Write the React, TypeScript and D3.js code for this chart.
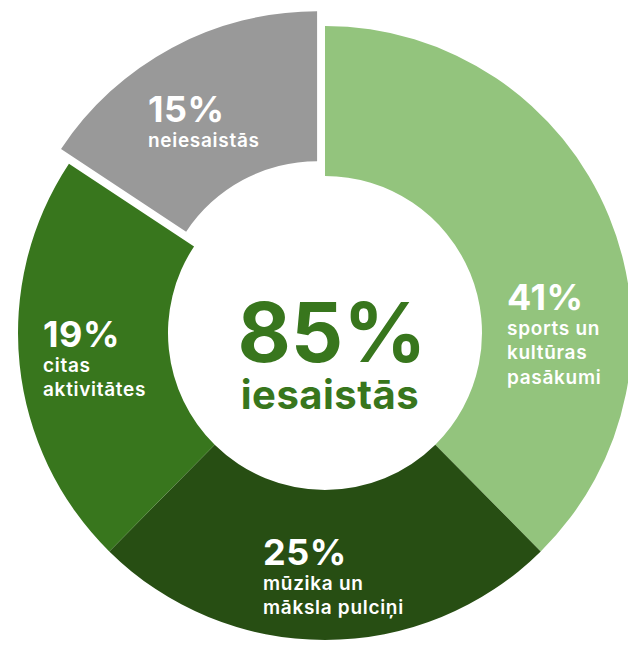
import React from 'react';
import * as d3 from 'd3';

// values
const categories = ['sports un kultūras pasākumi', 'mūzika un māksla pulciņi', 'citas aktivitātes', 'neiesaistās'];
const pctLabels = [41, 25, 19, 15];
// slice sizes as drawn in the picture (the arcs are not exactly the labelled shares)
const sliceShares = [37.6, 24.8, 21.9, 15.7];
const labelLines = [
  ['sports un', 'kultūras', 'pasākumi'],
  ['mūzika un', 'māksla pulciņi'],
  ['citas', 'aktivitātes'],
  ['neiesaistās'],
];
const centerValue = '85%';
const centerLabel = 'iesaistās';

const colors = ['#93c47d', '#274e13', '#38761d', '#999999'];
const explode = [0, 0, 0, 16.7];

// layout
const W = 628;
const H = 646;
const cx = 325;
const cy = 333;
const outerR = 307;
const innerR = 157;
// label block anchor: left x and baseline of the percentage line
const labelAnchor: [number, number][] = [
  [507, 310],
  [263, 565],
  [43, 347],
  [148, 122],
];

const App = () => {
  const pie = d3.pie<number>().sort(null).value(d => d);
  const arcs = pie(sliceShares);
  const arc = d3.arc<d3.PieArcDatum<number>>().innerRadius(innerR).outerRadius(outerR);

  return (
    <svg
      width={W}
      height={H}
      style={{ position: 'absolute', left: 0, top: 0, background: '#fff' }}
      fontFamily="Inter, 'Noto Sans', sans-serif"
    >
      <g transform={`translate(${cx},${cy})`}>
        {arcs.map((a, i) => {
          const mid = (a.startAngle + a.endAngle) / 2;
          const dx = Math.sin(mid) * explode[i];
          const dy = -Math.cos(mid) * explode[i];
          return (
            <path
              key={categories[i]}
              d={arc(a) || ''}
              fill={colors[i]}
              transform={`translate(${dx},${dy})`}
            />
          );
        })}
      </g>

      {labelAnchor.map(([x, y], i) => (
        <text key={i} x={x} y={y} fill="#fff">
          <tspan fontSize={36} fontWeight={700} x={x} y={y} letterSpacing={0.5}>
            {pctLabels[i]}%
          </tspan>
          {labelLines[i].map((line, j) => (
            <tspan key={j} x={x} y={y + 24.5 * (j + 1)} fontSize={19} fontWeight={600} letterSpacing={0.7}>
              {line}
            </tspan>
          ))}
        </text>
      ))}

      <text
        x={cx + 7}
        y={362}
        textAnchor="middle"
        fill="#38761d"
        fontSize={82}
        fontWeight={700}
      >
        {centerValue}
      </text>
      <text
        x={cx + 5}
        y={409}
        textAnchor="middle"
        fill="#38761d"
        fontSize={40}
        fontWeight={700}
        letterSpacing={0.5}
      >
        {centerLabel}
      </text>
    </svg>
  );
};

export default App;
